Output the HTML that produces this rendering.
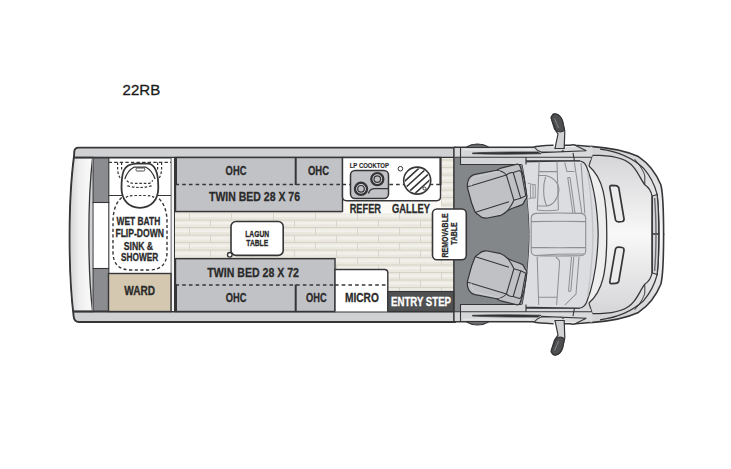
<!DOCTYPE html>
<html><head><meta charset="utf-8"><style>
html,body{margin:0;padding:0;background:#fff;}
svg{display:block;}
text{font-family:"Liberation Sans",sans-serif;}
</style></head><body>
<svg width="731" height="469" viewBox="0 0 731 469">
<defs>
<linearGradient id="bump" x1="0" x2="1" y1="0" y2="0">
 <stop offset="0" stop-color="#d3d3d5"/><stop offset="0.4" stop-color="#eeeeef"/><stop offset="1" stop-color="#fbfbfb"/>
</linearGradient>
<linearGradient id="hood" x1="0" x2="0" y1="0" y2="1">
 <stop offset="0" stop-color="#d2d2d4"/><stop offset="0.35" stop-color="#dfdfe1"/><stop offset="1" stop-color="#f8f8f8"/>
</linearGradient>
<pattern id="wood" patternUnits="userSpaceOnUse" width="84" height="15" x="176" y="213">
 <rect width="84" height="15" fill="#ebe8e0"/>
 <rect x="0" y="1.5" width="84" height="2.5" fill="#f2f0eb"/>
 <rect x="0" y="9" width="84" height="2.5" fill="#f2f0eb"/>
 <path d="M0 7H84M0 14.5H84" stroke="#d6d2c7" stroke-width="1"/>
 <path d="M13.5 0V7M55.5 0V7M34.5 7V14.5M76.5 7V14.5" stroke="#d9d5ca" stroke-width="1"/>
 <path d="M20 4.5H40M60 12H75" stroke="#e6e3dc" stroke-width="0.7"/>
</pattern>
</defs>
<path d="M78.5 147.6 H455 V322 H79 Q74 322 73.6 316 C68.2 270 68.2 200 74 156 L74.3 151.5 Q74.6 147.6 78.5 147.6 Z" fill="#d0d1d3" stroke="#363638" stroke-width="1.9"/>
<path d="M74.2 157.5 C68.5 200 68.5 270 73.4 311.5 H92.6 C87.6 270 87.6 200 92.6 157.5 Z" fill="url(#bump)" stroke="#363638" stroke-width="1.3"/>
<rect x="92" y="157.5" width="362" height="154" fill="#ffffff"/>
<rect x="93" y="157.5" width="15.8" height="45" fill="#8a8c8f" stroke="#363638" stroke-width="1.1"/>
<rect x="93" y="268.5" width="15.8" height="43" fill="#8a8c8f" stroke="#363638" stroke-width="1.1"/>
<path d="M93 202 V268.5 M108.8 202 V268.5" stroke="#363638" stroke-width="1.1"/>
<path d="M74 157.7 H455 M73 311.5 H455" stroke="#363638" stroke-width="1.8"/>
<path d="M108.5 195.5 H171" stroke="#363638" stroke-width="1.2"/>
<path d="M171.3 157.5 V311.5 M174.5 157.5 V311.5" stroke="#363638" stroke-width="1.2"/>
<rect x="171.5" y="158" width="2.5" height="153" fill="#f4f4f5"/>
<path d="M108.5 162.3 H171" stroke="#363638" stroke-width="1.3" stroke-dasharray="3.4 2.2"/>
<path d="M117.6 162.5 V170 Q118.5 178 123.5 181.5 M121.6 162.5 V170 M161.6 162.5 V170 Q160.8 178 156 181.5 M157.6 162.5 V170" fill="none" stroke="#363638" stroke-width="1.2" stroke-dasharray="2.6 1.8"/>
<path d="M121.8 197.5 Q113 205 113 222 V252 Q113 270 131 270 H149 Q167 270 167 252 V222 Q167 205 157.5 197.5" fill="none" stroke="#363638" stroke-width="1.4" stroke-dasharray="3.2 2.4"/>
<path d="M136 163.6 H148.5 C152 164 154.5 167 156 170.5 C157.5 174 158.3 180 158.3 188 C158.3 200 151 207.8 139.9 207.8 C128.8 207.8 121.5 200 121.5 188 C121.5 180 122.3 174 123.8 170.5 C125.3 167 128 164 136 163.6 Z" fill="#fff" stroke="#363638" stroke-width="1.8"/>
<path d="M124.8 179 Q127.5 170.5 133.8 167.2 H146 Q152.3 170.5 155.1 179" fill="none" stroke="#363638" stroke-width="1.2"/>
<rect x="136" y="168" width="8.8" height="3" rx="1.2" fill="#fff" stroke="#363638" stroke-width="0.9"/>
<path d="M126.8 180.6 Q129 183.3 134.3 183.3 H149.2 Q151.5 183 152.7 180.2 M127.3 185.9 Q134 187.5 139.9 187.5 Q146 187.5 152.7 185.5 M126 197.5 Q128 195.5 134 195.5 H146 Q152 195.5 154 197.5" fill="none" stroke="#363638" stroke-width="1.2" stroke-dasharray="2.6 1.8"/>
<rect x="108.5" y="273.5" width="62.5" height="38" fill="#d5c8b0" stroke="#363638" stroke-width="1.4"/>
<rect x="175" y="211.5" width="279" height="47.5" fill="url(#wood)"/>
<rect x="335" y="258" width="119" height="34" fill="url(#wood)"/>
<rect x="441" y="158" width="13" height="54" fill="url(#wood)"/>
<rect x="342" y="200" width="99" height="13.5" fill="#fbfaf7"/>
<rect x="175.5" y="157.5" width="167" height="54" fill="#c1c2c6" stroke="#363638" stroke-width="1.4"/>
<path d="M175.5 184.5 H342.5" stroke="#363638" stroke-width="1.6" stroke-dasharray="3.6 3.1"/>
<path d="M176 157.5 V185 M295.7 157.5 V185" stroke="#363638" stroke-width="2"/>
<path d="M342.5 157.5 H440.5 V196.5 Q440.5 200.7 436.5 200.7 H346.5 Q342.5 200.7 342.5 196.5 Z" fill="#fff" stroke="#363638" stroke-width="1.4"/>
<path d="M342.5 184.5 H440.5" stroke="#363638" stroke-width="1.6" stroke-dasharray="3.6 3.1"/>
<path d="M440.5 157.5 V185" stroke="#363638" stroke-width="2"/>
<rect x="350.5" y="170.5" width="38" height="28" rx="4.5" fill="#c1c2c6" stroke="#363638" stroke-width="1.5"/>
<path d="M368.5 193.5 Q369.5 189 374 188.6 H388" fill="none" stroke="#363638" stroke-width="1.3"/>
<circle cx="361" cy="188.8" r="6.0" fill="#c1c2c6" stroke="#363638" stroke-width="2.4"/>
<circle cx="361" cy="188.8" r="4.1" fill="#c1c2c6" stroke="#dadadc" stroke-width="0.8"/>
<circle cx="361" cy="188.8" r="3.3" fill="#c1c2c6" stroke="#363638" stroke-width="1.2"/>
<circle cx="377.3" cy="179.1" r="6.0" fill="#c1c2c6" stroke="#363638" stroke-width="2.4"/>
<circle cx="377.3" cy="179.1" r="4.1" fill="#c1c2c6" stroke="#dadadc" stroke-width="0.8"/>
<circle cx="377.3" cy="179.1" r="3.3" fill="#c1c2c6" stroke="#363638" stroke-width="1.2"/>
<circle cx="400.4" cy="168.7" r="2.3" fill="#fff" stroke="#363638" stroke-width="1"/>
<clipPath id="sinkc"><circle cx="417.2" cy="180.6" r="12.3"/></clipPath>
<circle cx="417.2" cy="180.6" r="13.5" fill="#fff" stroke="#363638" stroke-width="1.6"/>
<g clip-path="url(#sinkc)" stroke="#363638" stroke-width="1.6"><path d="M400.7 184.8 L422.9 164.6 M404.3 188.7 L426.5 168.5 M407.9 192.7 L430.1 172.5 M411.5 196.6 L433.7 176.4"/></g>
<circle cx="424.5" cy="188.5" r="1.5" fill="none" stroke="#363638" stroke-width="1"/>
<rect x="175.5" y="258.7" width="159.5" height="52.8" fill="#c1c2c6" stroke="#363638" stroke-width="1.4"/>
<path d="M175.5 285 H387.5" stroke="#363638" stroke-width="1.6" stroke-dasharray="3.6 3.1"/>
<path d="M176 284.5 V311.5 M295.7 284.5 V311.5" stroke="#363638" stroke-width="2"/>
<path d="M335 311.5 V269.5 H384.5 Q387.8 269.5 387.8 273 V311.5" fill="#fff" stroke="#363638" stroke-width="1.4"/>
<path d="M335 285 H387.5" stroke="#363638" stroke-width="1.6" stroke-dasharray="3.6 3.1"/>
<rect x="231" y="221.5" width="52.2" height="33.9" rx="5" fill="#fff" stroke="#363638" stroke-width="1.6"/>
<circle cx="229.8" cy="254.8" r="2.3" fill="#fff" stroke="#363638" stroke-width="1.4"/>
<path d="M454 147.5 V322" stroke="#363638" stroke-width="1.3"/>

<g id="cabtop">
<path d="M454 147.2 L533 147 L581 146.7 C600 147 625 150.5 638.4 156.6 C648 163 656 173 660.8 184.8 C662.8 192 663.6 210 663.6 235 L454 235 Z" fill="url(#hood)"/>
<path d="M590.6 146.4 C604 147.3 625 150.5 638.4 156.6 C648 163 656 173 660.8 184.8 C662.8 192 663.6 210 663.6 235" fill="none" stroke="#363638" stroke-width="1.6"/>
<path d="M600 149.2 C616 151.3 632 157.5 643.5 168.2 C650 176 655 186 657 194 C658.5 205 659 220 659 235" fill="none" stroke="#363638" stroke-width="1.2"/>
<path d="M592.3 155.4 L600 155.4 C615 156 628 160 633.3 166.9 C638 172 641 180 644.8 184.8 C648 187 651 190 652 196 V235" fill="none" stroke="#363638" stroke-width="1.3"/>
<path d="M634.6 159.2 C640 165 644 172 644.8 176 V184.2" fill="none" stroke="#363638" stroke-width="1"/>
<path d="M652.3 196 L657.2 194.5 C658.3 205 658.8 220 658.8 235 H652.3 Z" fill="#d4d5d7" stroke="#363638" stroke-width="1.3"/>
<path d="M654.6 198 C655.6 210 656 222 656 235" fill="none" stroke="#6a6b6e" stroke-width="1.4"/>
<path d="M611.5 185.3 Q609.2 185.5 610 188.5 L615.5 220 Q616.2 222 619 221.8 L622.2 221.5 Q624.3 221 624 218.5 L618.8 188 Q618.2 185.8 615.5 185.6 Z" fill="#ececed" stroke="#363638" stroke-width="1.7"/>
<path d="M586.7 167 C591 178 597.5 200 598.2 235 L606.8 235 C606.8 198 603 178 588.9 166 Z" fill="#eeeeef" stroke="none"/>
<path d="M588.9 166 C603 178 606.8 198 606.8 235" fill="none" stroke="#363638" stroke-width="1.3"/>
<path d="M592.3 155.4 L588.9 166" fill="none" stroke="#363638" stroke-width="1.1"/>
<path d="M521.5 161.8 L579.5 160.7 C583 161.5 585.5 164 586.7 167 C591 178 597.5 200 598.2 235 L529 235 C528.5 210 526 185 521.5 161.8 Z" fill="#dcdde0" stroke="none"/>
<path d="M529 234.5 C528.5 210 526 185 521.5 161.8 L579.5 160.7 C583 161.5 585.5 164 586.7 167 C591 178 597.5 200 598.2 235" fill="none" stroke="#363638" stroke-width="1.2"/>
<path d="M531.2 235 V218 Q531.5 213.8 536 213.4 Q558 212.5 581 213.4 Q585.5 213.8 585.7 218 V235 M531.5 221.6 Q558 220.8 585.5 221.6" fill="none" stroke="#8f9093" stroke-width="1.1"/>
<path d="M587.5 172 C590.5 190 592.5 210 593 235" fill="none" stroke="#c4c5c7" stroke-width="1.4"/>
<path d="M454 157 H460.5 V164.3 L521.5 162.5 C526 185 528.5 210 529 235 L454 235 Z" fill="#84878a"/>
<rect x="454" y="147" width="6.5" height="10.3" fill="#d5d6d8"/><rect x="460.5" y="147" width="65.5" height="17.5" fill="#d5d6d8"/>
<path d="M526 146.8 L592.3 146.8 L592.3 155.4 L590 160.5 H526 Z" fill="#d9dadc"/>
<path d="M460.5 147 V164.5 H521.5 M454.5 157.2 H592 M526 157.2 V164.5 M526 160.7 H580 M573 152.8 L574.4 160.5" fill="none" stroke="#363638" stroke-width="1.1"/>
<path d="M472.5 152.9 Q500 151.8 538 151.9 L541 153.8 Q500 154.6 472.5 153.7 Z" fill="#333" stroke="#333" stroke-width="0.7"/>
<path d="M463 149.8 H532" fill="none" stroke="#f0f0f1" stroke-width="0.8"/>
<path d="M454 147.2 H533 Q538 145.8 553.6 145.3 M563 145.2 L570 145.2 Q573 144.3 575.5 145.2 L590.6 146.4" fill="none" stroke="#363638" stroke-width="1.5"/>
<path d="M466.5 147 Q471 144.2 477.5 144 Q484 144.2 488.5 147" fill="#6a6b6d" stroke="#363638" stroke-width="1.1"/>
<path d="M534.5 147.2 Q537 150.8 541.2 152 H561.3 L563.5 150.3 M574.6 145 L586.3 150.7 L541 152.6" fill="none" stroke="#363638" stroke-width="1.1"/>
<path d="M552 116 Q553 113.5 556 114 Q560.5 115 562.5 121 L564.8 131 L564.2 148.5 L555 148.5 L558 134 L554.4 128.7 L551.3 118.5 Q551 117 552 116 Z" fill="#d2d3d5" stroke="#363638" stroke-width="1.2"/>
<path d="M552 116 Q553 113.5 556 114 Q560.5 115 562.5 121 L564.4 130.2 Q561 133.2 556.2 130.8 L551.3 118.5 Q551 117 552 116 Z" fill="#4e4f51" stroke="#363638" stroke-width="1.2"/>
<path d="M554.6 118.5 L558.6 128" stroke="#85868a" stroke-width="1"/>
<path d="M468.2 180.5 Q470 175.5 475 174.4 L496.8 170.3 Q499 168.8 500.9 168.2 L511.8 165.5 L517.3 164.1 Q519.5 164 520.2 166.5 L524.1 178.5 L526.8 195.5 Q527 198.5 525.5 199.5 L522.8 204.4 Q518 206.5 511.8 208.5 L507.7 210.5 Q504 214 500.9 215.3 L487.3 218 Q482 218.5 479.1 215.3 Q476 213.5 475 211.9 L471.6 203 L467.5 188 Q467 183 468.2 180.5 Z" fill="#c0c1c4" stroke="#363638" stroke-width="1.2"/>
<path d="M467.8 186.8 L506.4 175 M475.5 212.3 L509 201.7 M496.8 170.3 Q503 171 506.4 175 L513.9 200.3 Q512 205 507.7 210.5 M506.4 175 Q510 172 513.2 172.5 L520.7 198.2 L513.9 200.3 M513.2 172.5 L519.5 170.5 Q521 171 521.5 173 L525.8 195.8 L520.7 198.2" fill="none" stroke="#363638" stroke-width="1.1"/>
<path d="M471 186 Q471.5 178 477 176.5 L500 171" fill="none" stroke="#cfd0d2" stroke-width="0.8"/>
</g>
<use href="#cabtop" transform="matrix(1 0 0 -1 0 469)"/>
<path d="M539.2 161.6 L537.3 210 M557 161.6 L558.4 210 M539.2 171.6 H557 M564.7 162.5 L567 171.4 H574.4 M574.4 162.5 L581.8 213 M567.7 177.4 L572.9 213 M570 177.4 L575 213 M567.7 177.4 H570 M581 163 L584.8 213.4 M537.3 210 Q545 211.5 558.4 210" fill="none" stroke="#8f9093" stroke-width="1.05"/>
<path d="M537.8 175.5 H545.6 C555 177.5 559.5 185 558.8 191 C558 198 554 204.5 546.8 206 H537.6" fill="none" stroke="#8f9093" stroke-width="1.2"/>
<path d="M545.6 176.7 C542.8 185 542.8 198 546.8 206" fill="none" stroke="#8f9093" stroke-width="1.1"/>
<path d="M527.8 183 Q532 185 535.3 184.5 V198 Q532 197.5 528.3 199 M530.5 184.5 V198.2 M533 184.8 V197.8" fill="none" stroke="#8f9093" stroke-width="0.9"/><path d="M537.2 257 L538.7 305 M555.8 257 Q559.6 260 559.6 262 L556.6 305 M538.7 297.2 H557 M571.5 257 L568.5 291.3 M573.8 257 L570.8 291.3 M568.5 291.3 H570.8 M579 257 L576 294 L564.8 305 M535 255.4 Q560 253.8 584 254" fill="none" stroke="#8f9093" stroke-width="1.05"/>
<rect x="387.8" y="291.5" width="66" height="20" fill="#4f5052" stroke="#363638" stroke-width="1.2"/>
<path d="M454 147 V322" stroke="#363638" stroke-width="1.3"/>
<rect x="432.5" y="209" width="33.8" height="50.7" rx="4.5" fill="#fff" stroke="#363638" stroke-width="1.6"/>

<text x="122.6" y="94.9" font-size="14.97" font-weight="normal" fill="#1a1a1a"  textLength="37.6" lengthAdjust="spacingAndGlyphs" stroke="#1a1a1a" stroke-width="0.3">22RB</text>
<text x="225.6" y="175.3" font-size="13.08" font-weight="bold" fill="#2a2a2a" stroke="#2a2a2a" stroke-width="0.3" textLength="20.8" lengthAdjust="spacingAndGlyphs" >OHC</text>
<text x="308.0" y="175.0" font-size="12.50" font-weight="bold" fill="#2a2a2a" stroke="#2a2a2a" stroke-width="0.3" textLength="21.0" lengthAdjust="spacingAndGlyphs" >OHC</text>
<text x="209.0" y="201.3" font-size="13.52" font-weight="bold" fill="#2a2a2a" stroke="#2a2a2a" stroke-width="0.3" textLength="91.0" lengthAdjust="spacingAndGlyphs" >TWIN BED 28 X 76</text>
<text x="349.7" y="167.8" font-size="7.27" font-weight="bold" fill="#2a2a2a" stroke="#2a2a2a" stroke-width="0.15" textLength="39.3" lengthAdjust="spacingAndGlyphs" >LP COOKTOP</text>
<text x="349.7" y="213.4" font-size="12.21" font-weight="bold" fill="#2a2a2a" stroke="#2a2a2a" stroke-width="0.3" textLength="31.3" lengthAdjust="spacingAndGlyphs" >REFER</text>
<text x="392.0" y="213.4" font-size="12.21" font-weight="bold" fill="#2a2a2a" stroke="#2a2a2a" stroke-width="0.3" textLength="38.0" lengthAdjust="spacingAndGlyphs" >GALLEY</text>
<text x="116.6" y="225.3" font-size="11.19" font-weight="bold" fill="#2a2a2a" stroke="#2a2a2a" stroke-width="0.3" textLength="43.6" lengthAdjust="spacingAndGlyphs" >WET BATH</text>
<text x="115.4" y="237.0" font-size="10.47" font-weight="bold" fill="#2a2a2a" stroke="#2a2a2a" stroke-width="0.3" textLength="48.6" lengthAdjust="spacingAndGlyphs" >FLIP-DOWN</text>
<text x="123.7" y="249.6" font-size="11.05" font-weight="bold" fill="#2a2a2a" stroke="#2a2a2a" stroke-width="0.3" textLength="29.4" lengthAdjust="spacingAndGlyphs" >SINK &amp;</text>
<text x="121.1" y="261.1" font-size="11.19" font-weight="bold" fill="#2a2a2a" stroke="#2a2a2a" stroke-width="0.3" textLength="37.2" lengthAdjust="spacingAndGlyphs" >SHOWER</text>
<text x="124.3" y="295.0" font-size="12.06" font-weight="bold" fill="#2a2a2a" stroke="#2a2a2a" stroke-width="0.3" textLength="30.7" lengthAdjust="spacingAndGlyphs" >WARD</text>
<text x="245.2" y="237.4" font-size="8.87" font-weight="bold" fill="#2a2a2a" stroke="#2a2a2a" stroke-width="0.3" textLength="24.0" lengthAdjust="spacingAndGlyphs" >LAGUN</text>
<text x="246.3" y="246.3" font-size="9.16" font-weight="bold" fill="#2a2a2a" stroke="#2a2a2a" stroke-width="0.3" textLength="21.8" lengthAdjust="spacingAndGlyphs" >TABLE</text>
<text x="207.3" y="277.3" font-size="13.52" font-weight="bold" fill="#2a2a2a" stroke="#2a2a2a" stroke-width="0.3" textLength="91.7" lengthAdjust="spacingAndGlyphs" >TWIN BED 28 X 72</text>
<text x="225.7" y="302.3" font-size="13.52" font-weight="bold" fill="#2a2a2a" stroke="#2a2a2a" stroke-width="0.3" textLength="20.7" lengthAdjust="spacingAndGlyphs" >OHC</text>
<text x="306.0" y="302.3" font-size="13.52" font-weight="bold" fill="#2a2a2a" stroke="#2a2a2a" stroke-width="0.3" textLength="20.6" lengthAdjust="spacingAndGlyphs" >OHC</text>
<text x="345.0" y="302.3" font-size="13.52" font-weight="bold" fill="#2a2a2a" stroke="#2a2a2a" stroke-width="0.3" textLength="33.8" lengthAdjust="spacingAndGlyphs" >MICRO</text>
<g transform="rotate(-90 448.4 257.5)"><text x="448.4" y="257.5" font-size="9.88" font-weight="bold" fill="#2a2a2a" stroke="#2a2a2a" stroke-width="0.3" textLength="44.1" lengthAdjust="spacingAndGlyphs" >REMOVABLE</text>
</g><g transform="rotate(-90 457.3 244.8)"><text x="457.3" y="244.8" font-size="8.72" font-weight="bold" fill="#2a2a2a" stroke="#2a2a2a" stroke-width="0.3" textLength="22.4" lengthAdjust="spacingAndGlyphs" >TABLE</text>
</g><text x="391.0" y="305.5" font-size="12.35" font-weight="bold" fill="#ffffff" stroke="#ffffff" stroke-width="0.3" textLength="60.0" lengthAdjust="spacingAndGlyphs" >ENTRY STEP</text>

</svg></body></html>
